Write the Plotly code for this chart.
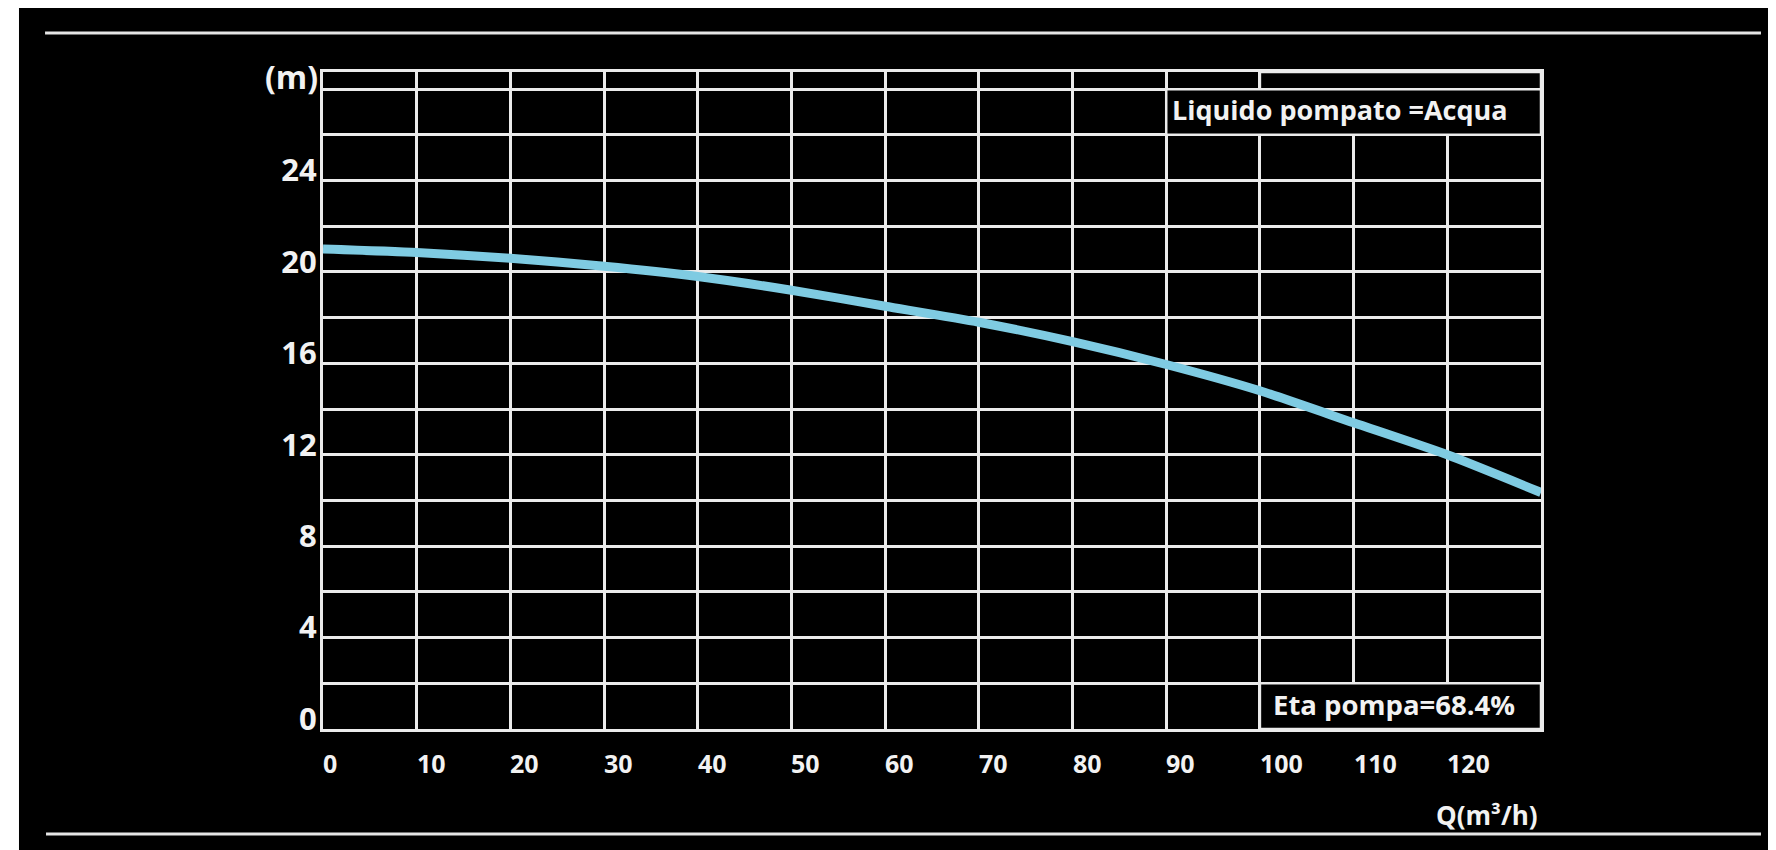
import plotly.graph_objects as go

# ---- data ----
flow_q = [0, 10, 20, 30, 40, 50, 60, 70, 80, 90, 100, 110, 120, 130]
head_m = [21.0, 20.85, 20.6, 20.25, 19.8, 19.2, 18.5, 17.8, 16.95, 15.95, 14.8, 13.4, 12.0, 10.35]

x_grid = [0, 10, 20, 30, 40, 50, 60, 70, 80, 90, 100, 110, 120, 130]
x_label_vals = [0, 10, 20, 30, 40, 50, 60, 70, 80, 90, 100, 110, 120]
x_label_text = ["0", "10", "20", "30", "40", "50", "60", "70", "80", "90", "100", "110", "120"]

y_grid = [0, 2, 4, 6, 8, 10, 12, 14, 16, 18, 20, 22, 24, 26, 28]
y_label_vals = [0, 4, 8, 12, 16, 20, 24]
y_label_text = ["0", "4", "8", "12", "16", "20", "24"]

x_range = [0, 130]
y_range = [0, 28.75]

liquid_text = "Liquido pompato =Acqua"
eta_text = "Eta pompa=68.4%"
y_unit = "(m)"
x_unit = "Q(m³/h)"

FONT = "Open Sans"
WHITE = "#F2F2F2"
GRID = "#EBEBEB"

y_ticktext = [y_label_text[y_label_vals.index(v)] if v in y_label_vals else "" for v in y_grid]

fig = go.Figure()
fig.add_trace(go.Scatter(
    x=flow_q, y=head_m, mode="lines",
    line=dict(color="#7FCBE2", width=9, shape="spline", smoothing=0.6),
    cliponaxis=False, hoverinfo="skip", showlegend=False,
))

fig.update_layout(
    width=1768, height=842,
    margin=dict(l=315, r=235, t=64, b=121, pad=0),
    paper_bgcolor="black", plot_bgcolor="black",
    showlegend=False,
    xaxis=dict(
        range=x_range, tickvals=x_grid, showticklabels=False, ticks="",
        showgrid=True, gridcolor=GRID, gridwidth=2.5,
        showline=True, linecolor=GRID, linewidth=3, mirror=True,
        zeroline=False, fixedrange=True,
    ),
    yaxis=dict(
        range=y_range, tickvals=y_grid, ticktext=y_ticktext, ticks="",
        tickfont=dict(family=FONT, size=31, color=WHITE, weight=700),
        ticklabelshift=-10, ticklabelstandoff=-3,
        showgrid=True, gridcolor=GRID, gridwidth=2.5,
        showline=True, linecolor=GRID, linewidth=3, mirror=True,
        zeroline=False, fixedrange=True,
    ),
)

# boxes that interrupt the grid (drawn between grid and trace)
box_style = dict(type="rect", xref="x", yref="y", fillcolor="black",
                 line=dict(color=GRID, width=2.5), layer="between")
fig.add_shape(x0=100, x1=130, y0=28, y1=y_range[1], **box_style)
fig.add_shape(x0=90, x1=130, y0=26, y1=28, **box_style)
fig.add_shape(x0=100, x1=130, y0=0, y1=2, **box_style)

# decorative frame lines and white left page strip
fig.add_shape(type="line", xref="paper", yref="paper", x0=-0.2282, x1=1.1806,
              y0=1.0594, y1=1.0594, line=dict(color="#E6E6E6", width=3))
fig.add_shape(type="line", xref="paper", yref="paper", x0=-0.2274, x1=1.1806,
              y0=-0.1598, y1=-0.1598, line=dict(color="#E6E6E6", width=3))
fig.add_shape(type="rect", xref="paper", yref="paper", x0=-0.27, x1=-0.2496,
              y0=-0.19, y1=1.12, fillcolor="white", line=dict(width=0))

# x tick labels, left-aligned at each grid line
for v, t in zip(x_label_vals, x_label_text):
    fig.add_annotation(x=v, xref="x", y=0, yref="paper", text=t, showarrow=False,
                       xanchor="left", yanchor="middle", xshift=-2, yshift=-34,
                       font=dict(family=FONT, size=25, color=WHITE, weight=700))

fig.add_annotation(x=90, xref="x", y=27, yref="y", text=liquid_text, showarrow=False,
                   xanchor="left", yanchor="middle", xshift=4, yshift=2,
                   font=dict(family=FONT, size=27, color=WHITE, weight=700))
fig.add_annotation(x=100, xref="x", y=1, yref="y", text=eta_text, showarrow=False,
                   xanchor="left", yanchor="middle", xshift=11, yshift=2,
                   font=dict(family=FONT, size=27.5, color=WHITE, weight=700))
fig.add_annotation(x=0, xref="paper", y=1, yref="paper", text=y_unit, showarrow=False,
                   xanchor="right", yanchor="middle", xshift=-3, yshift=-4,
                   font=dict(family=FONT, size=32, color=WHITE, weight=700))
fig.add_annotation(x=1, xref="paper", y=0, yref="paper", text=x_unit, showarrow=False,
                   xanchor="right", yanchor="middle", xshift=-1, yshift=-86,
                   font=dict(family=FONT, size=26, color=WHITE, weight=700))

fig.write_html("out.html", config={"displayModeBar": False})
